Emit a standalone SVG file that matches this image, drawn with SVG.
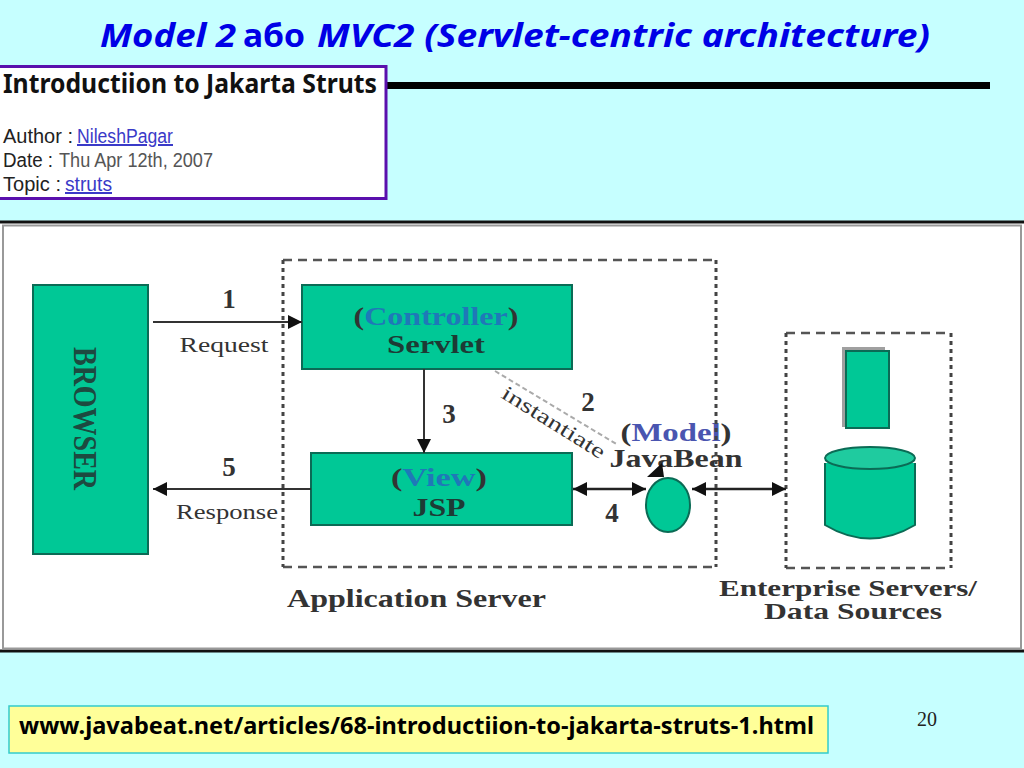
<svg xmlns="http://www.w3.org/2000/svg" width="1024" height="768" viewBox="0 0 1024 768">
<defs>
<marker id="arr" viewBox="0 0 10 10" refX="10" refY="5" markerWidth="17" markerHeight="14" markerUnits="userSpaceOnUse" orient="auto-start-reverse"><path d="M0 0L10 5L0 10Z" fill="#111"/></marker>
</defs>
<style>
.t{font-family:"Noto Sans","Open Sans",sans-serif;font-weight:700;font-style:italic;font-size:33px;fill:#0000e6}
.h{font-family:"Liberation Sans",sans-serif;fill:#222;font-size:20px}
.g{fill:#555}
.l{fill:#3a3ac8;text-decoration:underline}
.s{font-family:"Liberation Serif",serif;fill:#333}
.b{font-weight:700}
.c{text-anchor:middle}
.blue{fill:#1f78b8}
.n{fill:#00c896;stroke:#0b6b55;stroke-width:2}
.d{fill:none;stroke:#555;stroke-width:2.5;stroke-dasharray:9 6}
.v{fill:none;stroke:#444;stroke-width:3;stroke-dasharray:4 4}
.a{fill:none;stroke:#333;stroke-width:2;marker-end:url(#arr)}
.a2{fill:none;stroke:#222;stroke-width:2.5;marker-start:url(#arr);marker-end:url(#arr)}
</style>
<rect width="1024" height="768" fill="#c6ffff"/>
<g id="title">
<text class="t" x="100" y="47" textLength="136" lengthAdjust="spacingAndGlyphs">Model 2</text>
<text class="t" x="243" y="47" style="font-style:normal" textLength="62" lengthAdjust="spacingAndGlyphs">або</text>
<text class="t" x="317" y="47" textLength="613" lengthAdjust="spacingAndGlyphs">MVC2 (Servlet-centric architecture)</text>
</g>
<rect x="386" y="82" width="604" height="7" fill="#000"/>
<g id="intro">
<rect x="-3" y="66.500" width="389" height="132" fill="#fff" stroke="#5a10ad" stroke-width="3"/>
<text x="3" y="93" font-family="Noto Sans,sans-serif" font-weight="700" font-size="27" fill="#111" textLength="374" lengthAdjust="spacingAndGlyphs">Introductiion to Jakarta Struts</text>
<text class="h" x="3" y="143" textLength="70" lengthAdjust="spacingAndGlyphs">Author :</text>
<text class="h l" x="77" y="143" textLength="96" lengthAdjust="spacingAndGlyphs">NileshPagar</text>
<text class="h" x="3" y="167" textLength="50" lengthAdjust="spacingAndGlyphs">Date :</text>
<text class="h g" x="59" y="167" textLength="154" lengthAdjust="spacingAndGlyphs">Thu Apr 12th, 2007</text>
<text class="h" x="3" y="191" textLength="58" lengthAdjust="spacingAndGlyphs">Topic :</text>
<text class="h l" x="65" y="191" textLength="47" lengthAdjust="spacingAndGlyphs">struts</text>
</g>
<g id="diagram-frame">
<rect x="-2" y="222" width="1030" height="429" fill="#fff" stroke="#111" stroke-width="3"/>
<rect x="3" y="225.500" width="1018" height="423" fill="none" stroke="#999" stroke-width="2"/>
</g>
<g id="enterprise">
<path class="d" d="M786 333H951"/><path class="d" d="M786 568H951"/>
<path class="v" d="M786 333V568"/><path class="v" d="M951 333V568"/>
<path d="M842 347H885V352H848V427H842Z" fill="#777" opacity=".7"/>
<rect class="n" x="846" y="351" width="43" height="77"/>
<path class="n" d="M825 463V525Q870 552 915 525V463"/>
<ellipse cx="870" cy="458" rx="45" ry="11" fill="#1fcb9f" stroke="#0b6b55" stroke-width="2"/>
<text class="s b c" x="848" y="596" font-size="24" textLength="258" lengthAdjust="spacingAndGlyphs">Enterprise Servers/</text>
<text class="s b c" x="853" y="619" font-size="24" textLength="178" lengthAdjust="spacingAndGlyphs">Data Sources</text>
</g>
<g id="browser">
<rect class="n" x="33" y="285" width="115" height="269"/>
<text class="s b" transform="translate(74 347) rotate(90)" font-size="33" textLength="143" lengthAdjust="spacingAndGlyphs" style="fill:#1d4a40">BROWSER</text>
</g>
<g id="servlet">
<rect class="n" x="302" y="285" width="270" height="84"/>
<text class="s b c" x="436" y="325" font-size="25" textLength="165" lengthAdjust="spacingAndGlyphs">(<tspan class="blue">Controller</tspan>)</text>
<text class="s b c" x="436" y="353" font-size="25" textLength="98" lengthAdjust="spacingAndGlyphs" style="fill:#1d3b35">Servlet</text>
</g>
<g id="jsp">
<rect class="n" x="311" y="453" width="261" height="72"/>
<text class="s b c" x="439" y="486" font-size="25" textLength="96" lengthAdjust="spacingAndGlyphs">(<tspan class="blue">View</tspan>)</text>
<text class="s b c" x="439" y="516" font-size="25" textLength="53" lengthAdjust="spacingAndGlyphs" style="fill:#1d3b35">JSP</text>
</g>
<g id="javabean">
<ellipse class="n" cx="668" cy="505" rx="22" ry="27"/>
<text class="s b c" x="676" y="441" font-size="25" textLength="111" lengthAdjust="spacingAndGlyphs">(<tspan fill="#4a55b0">Model</tspan>)</text>
<text class="s b c" x="676" y="467" font-size="25" textLength="133" lengthAdjust="spacingAndGlyphs">JavaBean</text>
</g>
<g id="connectors">
<path class="a" d="M153 322H302"/>
<path class="a" d="M311 489H153"/>
<path class="a" d="M424 369V453"/>
<path class="a2" d="M573 489H646"/>
<path class="a2" d="M692 489H786"/>
<path d="M495 371L618 445" fill="none" stroke="#aaa" stroke-width="2" stroke-dasharray="5 3"/>
<path d="M647 477L662 463L664 477Z" fill="#111"/>
</g>
<g id="application-server">
<path class="d" d="M283 260H716"/><path class="d" d="M283 567H716"/>
<path class="v" d="M283 260V567"/><path class="v" d="M716 260V567"/>
<text class="s b" x="287" y="607" font-size="26" textLength="259" lengthAdjust="spacingAndGlyphs">Application Server</text>
</g>
<g id="labels">
<text class="s b c" x="229" y="308" font-size="27">1</text>
<text class="s c" x="224" y="352" font-size="22" textLength="89" lengthAdjust="spacingAndGlyphs">Request</text>
<text class="s b c" x="449" y="423" font-size="27">3</text>
<text class="s b c" x="229" y="476" font-size="27">5</text>
<text class="s c" x="227" y="519" font-size="22" textLength="102" lengthAdjust="spacingAndGlyphs">Response</text>
<text class="s b c" x="588" y="411" font-size="27">2</text>
<text class="s b c" x="612" y="522" font-size="27">4</text>
<text class="s" transform="translate(500 397) rotate(32)" font-size="21" textLength="118" lengthAdjust="spacingAndGlyphs">instantiate</text>
</g>
<g id="source">
<rect x="9" y="706" width="819" height="47" fill="#ffff99" stroke="#33cccc" stroke-width="1.500"/>
<text x="19" y="734" font-family="Noto Sans,sans-serif" font-weight="700" font-size="24" fill="#000" textLength="795" lengthAdjust="spacingAndGlyphs">www.javabeat.net/articles/68-introductiion-to-jakarta-struts-1.html</text>
</g>
<text id="page" x="917" y="726" font-family="Liberation Serif,serif" font-size="20" fill="#222">20</text>
</svg>
